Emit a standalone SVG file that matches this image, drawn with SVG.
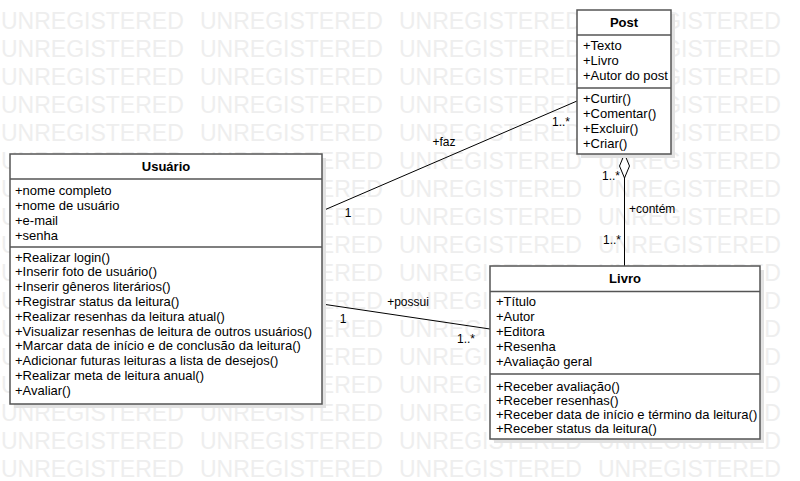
<svg xmlns="http://www.w3.org/2000/svg" width="800" height="481" viewBox="0 0 800 481">
<style>
.wm{font-family:"Liberation Sans",Arial,sans-serif;font-size:23px;fill:#eeeeee}
.box{fill:#ffffff;stroke:#555555;stroke-width:1.5}
.shadow{fill:#e2e2e2}
.sep{stroke:#555555;stroke-width:1.5}
.t{font-family:"Liberation Sans",Arial,sans-serif;font-size:13px;fill:#000}
.title{font-family:"Liberation Sans",Arial,sans-serif;font-size:13px;font-weight:bold;fill:#000;text-anchor:middle}
.lbl{font-family:"Liberation Sans",Arial,sans-serif;font-size:12px;fill:#000}
.conn{stroke:#000;stroke-width:1;fill:none}
</style>
<rect width="800" height="481" fill="#ffffff"/>
<g id="watermark" class="wm">
<text y="29"><tspan x="1">UNREGISTERED</tspan><tspan x="200">UNREGISTERED</tspan><tspan x="399">UNREGISTERED</tspan><tspan x="598">UNREGISTERED</tspan></text>
<text y="57"><tspan x="1">UNREGISTERED</tspan><tspan x="200">UNREGISTERED</tspan><tspan x="399">UNREGISTERED</tspan><tspan x="598">UNREGISTERED</tspan></text>
<text y="85"><tspan x="1">UNREGISTERED</tspan><tspan x="200">UNREGISTERED</tspan><tspan x="399">UNREGISTERED</tspan><tspan x="598">UNREGISTERED</tspan></text>
<text y="113"><tspan x="1">UNREGISTERED</tspan><tspan x="200">UNREGISTERED</tspan><tspan x="399">UNREGISTERED</tspan><tspan x="598">UNREGISTERED</tspan></text>
<text y="141"><tspan x="1">UNREGISTERED</tspan><tspan x="200">UNREGISTERED</tspan><tspan x="399">UNREGISTERED</tspan><tspan x="598">UNREGISTERED</tspan></text>
<text y="169"><tspan x="1">UNREGISTERED</tspan><tspan x="200">UNREGISTERED</tspan><tspan x="399">UNREGISTERED</tspan><tspan x="598">UNREGISTERED</tspan></text>
<text y="197"><tspan x="1">UNREGISTERED</tspan><tspan x="200">UNREGISTERED</tspan><tspan x="399">UNREGISTERED</tspan><tspan x="598">UNREGISTERED</tspan></text>
<text y="225"><tspan x="1">UNREGISTERED</tspan><tspan x="200">UNREGISTERED</tspan><tspan x="399">UNREGISTERED</tspan><tspan x="598">UNREGISTERED</tspan></text>
<text y="253"><tspan x="1">UNREGISTERED</tspan><tspan x="200">UNREGISTERED</tspan><tspan x="399">UNREGISTERED</tspan><tspan x="598">UNREGISTERED</tspan></text>
<text y="281"><tspan x="1">UNREGISTERED</tspan><tspan x="200">UNREGISTERED</tspan><tspan x="399">UNREGISTERED</tspan><tspan x="598">UNREGISTERED</tspan></text>
<text y="309"><tspan x="1">UNREGISTERED</tspan><tspan x="200">UNREGISTERED</tspan><tspan x="399">UNREGISTERED</tspan><tspan x="598">UNREGISTERED</tspan></text>
<text y="337"><tspan x="1">UNREGISTERED</tspan><tspan x="200">UNREGISTERED</tspan><tspan x="399">UNREGISTERED</tspan><tspan x="598">UNREGISTERED</tspan></text>
<text y="365"><tspan x="1">UNREGISTERED</tspan><tspan x="200">UNREGISTERED</tspan><tspan x="399">UNREGISTERED</tspan><tspan x="598">UNREGISTERED</tspan></text>
<text y="393"><tspan x="1">UNREGISTERED</tspan><tspan x="200">UNREGISTERED</tspan><tspan x="399">UNREGISTERED</tspan><tspan x="598">UNREGISTERED</tspan></text>
<text y="421"><tspan x="1">UNREGISTERED</tspan><tspan x="200">UNREGISTERED</tspan><tspan x="399">UNREGISTERED</tspan><tspan x="598">UNREGISTERED</tspan></text>
<text y="449"><tspan x="1">UNREGISTERED</tspan><tspan x="200">UNREGISTERED</tspan><tspan x="399">UNREGISTERED</tspan><tspan x="598">UNREGISTERED</tspan></text>
<text y="477"><tspan x="1">UNREGISTERED</tspan><tspan x="200">UNREGISTERED</tspan><tspan x="399">UNREGISTERED</tspan><tspan x="598">UNREGISTERED</tspan></text>
</g>
<g id="connectors">
<line class="conn" x1="322" y1="211" x2="577" y2="101"/>
<text class="lbl" x="444" y="146" text-anchor="middle">+faz</text>
<text class="lbl" x="348" y="217" text-anchor="middle">1</text>
<text class="lbl" x="561" y="126" text-anchor="middle">1..*</text>
<line class="conn" x1="322" y1="304" x2="490" y2="329"/>
<text class="lbl" x="408" y="306" text-anchor="middle">+possui</text>
<text class="lbl" x="343" y="323" text-anchor="middle">1</text>
<text class="lbl" x="466" y="343" text-anchor="middle">1..*</text>
<line class="conn" x1="624.5" y1="178" x2="624.5" y2="266"/>
<path d="M624.5 154 L629.5 166 L624.5 178 L619.5 166 Z" fill="#ffffff" stroke="#000" stroke-width="1"/>
<text class="lbl" x="611" y="180" text-anchor="middle">1..*</text>
<text class="lbl" x="629" y="213">+contém</text>
<text class="lbl" x="612" y="244" text-anchor="middle">1..*</text>
</g>
<g id="post">
<rect class="shadow" x="581" y="14" width="94" height="144"/>
<rect class="box" x="577" y="10" width="94" height="144"/>
<line class="sep" x1="577" y1="35" x2="671" y2="35"/>
<line class="sep" x1="577" y1="88" x2="671" y2="88"/>
<text class="title" x="624" y="27">Post</text>
<text class="t" x="583" y="50">+Texto</text>
<text class="t" x="583" y="65">+Livro</text>
<text class="t" x="583" y="80">+Autor do post</text>
<text class="t" x="583" y="102.5">+Curtir()</text>
<text class="t" x="583" y="117.5">+Comentar()</text>
<text class="t" x="583" y="132.5">+Excluir()</text>
<text class="t" x="583" y="147.5">+Criar()</text>
</g>
<g id="usuario">
<rect class="shadow" x="14" y="158" width="312" height="250"/>
<rect class="box" x="10" y="154" width="312" height="250"/>
<line class="sep" x1="10" y1="179" x2="322" y2="179"/>
<line class="sep" x1="10" y1="247" x2="322" y2="247"/>
<text class="title" x="166" y="171">Usuário</text>
<text class="t" x="15" y="194.5">+nome completo</text>
<text class="t" x="15" y="209.5">+nome de usuário</text>
<text class="t" x="15" y="224.5">+e-mail</text>
<text class="t" x="15" y="239.5">+senha</text>
<text class="t" x="15" y="261.5">+Realizar login()</text>
<text class="t" x="15" y="276.3">+Inserir foto de usuário()</text>
<text class="t" x="15" y="291.1">+Inserir gêneros literários()</text>
<text class="t" x="15" y="305.9">+Registrar status da leitura()</text>
<text class="t" x="15" y="320.7">+Realizar resenhas da leitura atual()</text>
<text class="t" x="15" y="335.5">+Visualizar resenhas de leitura de outros usuários()</text>
<text class="t" x="15" y="350.3">+Marcar data de início e de conclusão da leitura()</text>
<text class="t" x="15" y="365.1">+Adicionar futuras leituras a lista de desejos()</text>
<text class="t" x="15" y="379.9">+Realizar meta de leitura anual()</text>
<text class="t" x="15" y="394.7">+Avaliar()</text>
</g>
<g id="livro">
<rect class="shadow" x="494" y="270" width="270" height="173"/>
<rect class="box" x="490" y="266" width="270" height="173"/>
<line class="sep" x1="490" y1="291.5" x2="760" y2="291.5"/>
<line class="sep" x1="490" y1="374" x2="760" y2="374"/>
<text class="title" x="625" y="283">Livro</text>
<text class="t" x="496" y="306">+Título</text>
<text class="t" x="496" y="321">+Autor</text>
<text class="t" x="496" y="335.5">+Editora</text>
<text class="t" x="496" y="351">+Resenha</text>
<text class="t" x="496" y="365.5">+Avaliação geral</text>
<text class="t" x="496" y="390.5">+Receber avaliação()</text>
<text class="t" x="496" y="404.5">+Receber resenhas()</text>
<text class="t" x="496" y="418.5">+Receber data de início e término da leitura()</text>
<text class="t" x="496" y="433">+Receber status da leitura()</text>
</g>
</svg>
